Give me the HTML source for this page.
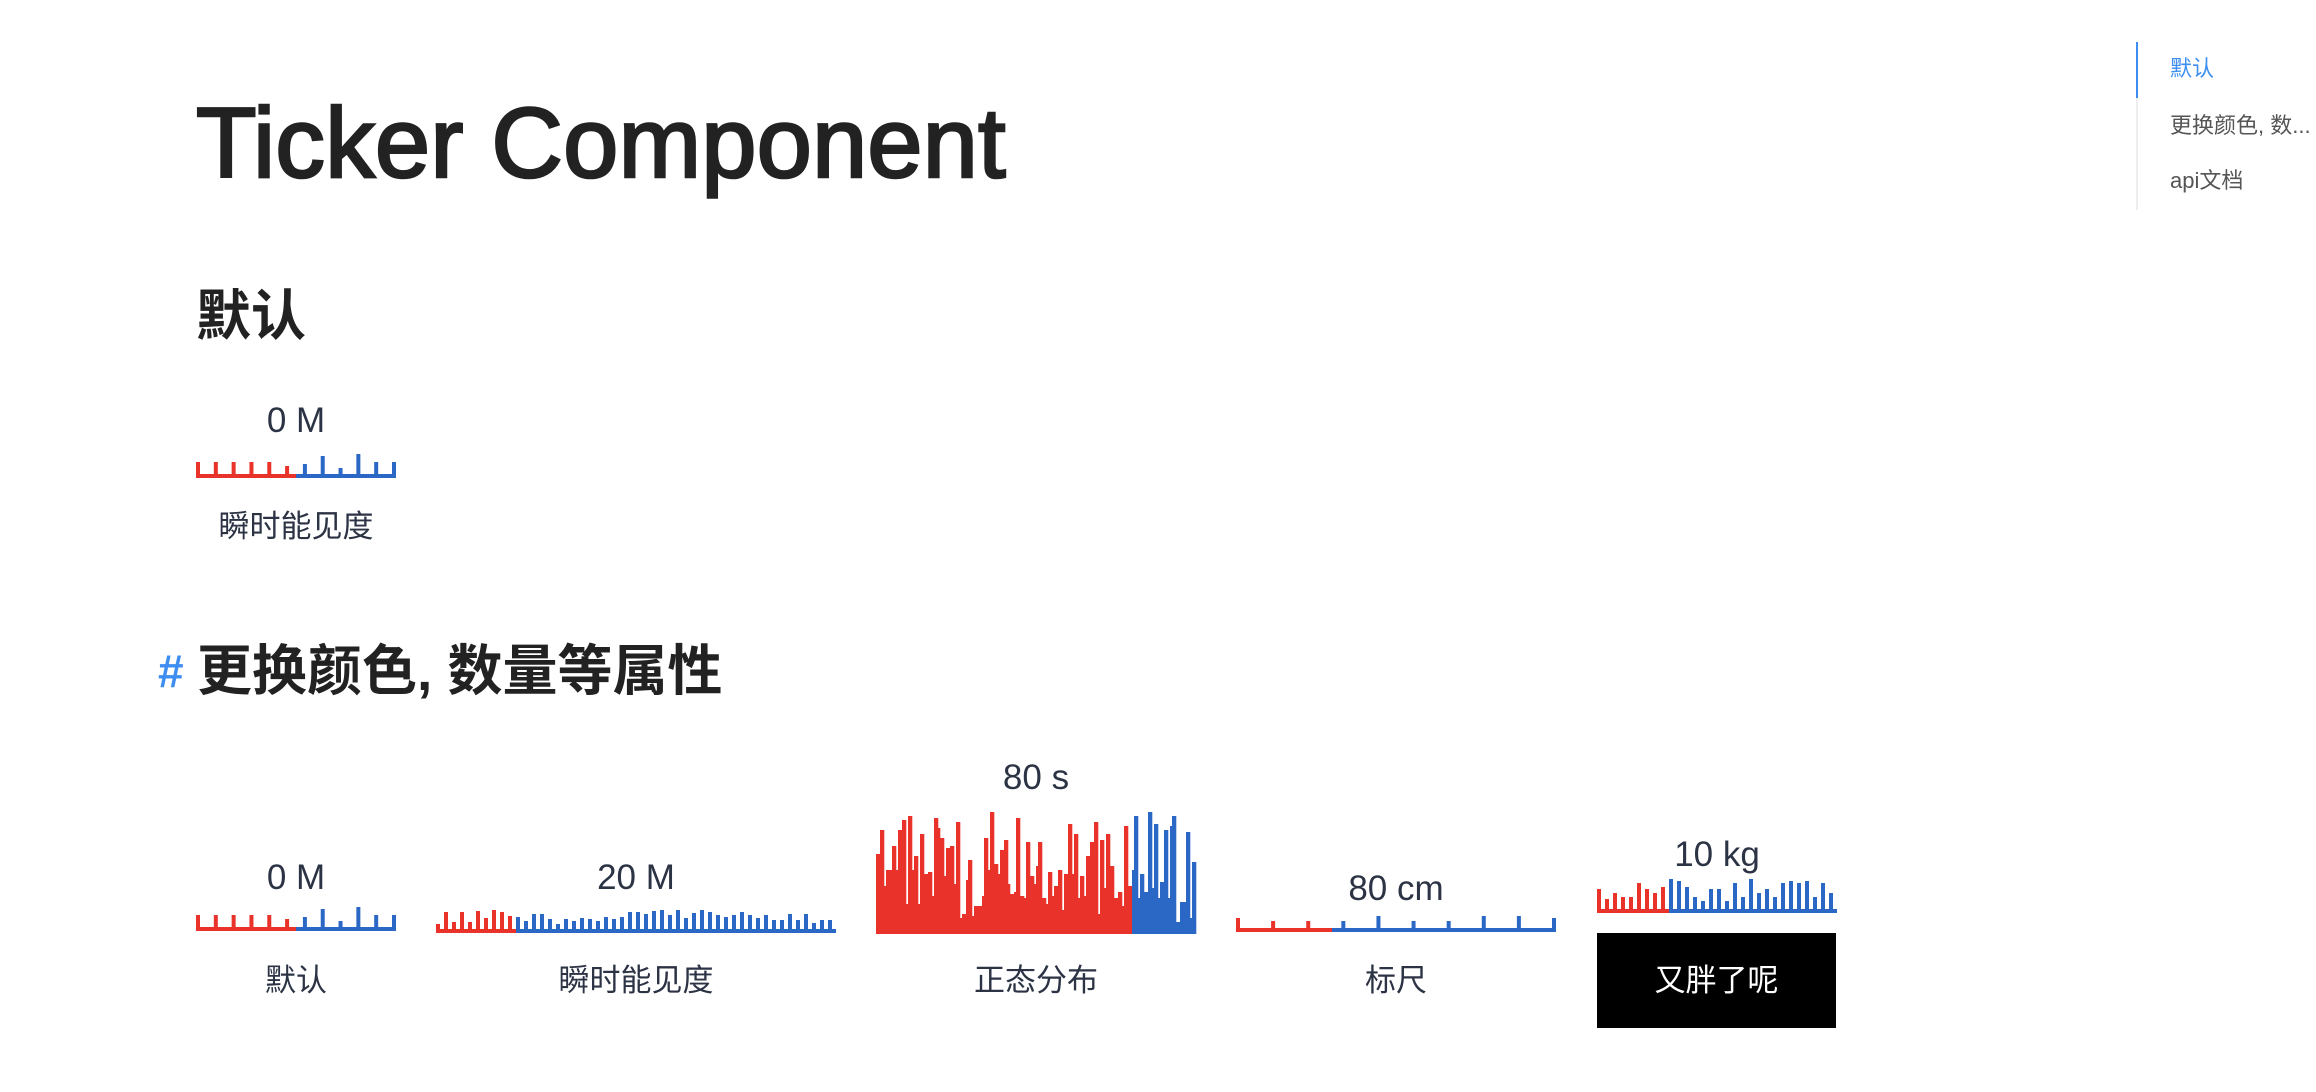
<!DOCTYPE html>
<html><head><meta charset="utf-8">
<style>
html,body{margin:0;padding:0;background:#fff;width:2316px;height:1092px;overflow:hidden;position:relative;font-family:"Liberation Sans","Noto Sans CJK SC",sans-serif;}
.abs{position:absolute;line-height:1;white-space:nowrap;}
.num{color:#2c3345;font-size:35px;text-align:center;}
.lbl{color:#2c3345;font-size:31px;text-align:center;}
svg{position:absolute;overflow:visible;}
</style></head><body>
<div class="abs" style="left:196px;top:93px;font-size:99px;color:#222;-webkit-text-stroke:2.6px #222;letter-spacing:0.3px;">Ticker Component</div>
<div class="abs" style="left:196px;top:289px;font-size:55px;font-weight:bold;color:#222;">默认</div>

<div class="abs num" style="left:196px;width:200px;top:403px;">0 M</div>
<svg id="t0" style="left:196px;top:440px" width="200" height="38"></svg>
<div class="abs lbl" style="left:196px;width:200px;top:511px;">瞬时能见度</div>

<div class="abs" style="left:158px;top:648px;font-size:46px;font-weight:bold;color:#3d8ef0;">#</div>
<div class="abs" style="left:197px;top:644px;font-size:55px;font-weight:bold;color:#222;">更换颜色, 数量等属性</div>

<div class="abs num" style="left:196px;width:200px;top:860px;">0 M</div>
<svg id="t1" style="left:196px;top:893px" width="200" height="38"></svg>
<div class="abs lbl" style="left:196px;width:200px;top:965px;">默认</div>

<div class="abs num" style="left:436px;width:400px;top:860px;">20 M</div>
<svg id="t2" style="left:436px;top:893px" width="400" height="40"></svg>
<div class="abs lbl" style="left:436px;width:400px;top:965px;">瞬时能见度</div>

<div class="abs num" style="left:876px;width:320px;top:760px;">80 s</div>
<svg id="t3" style="left:876px;top:804px" width="320" height="130"></svg>
<div class="abs lbl" style="left:876px;width:320px;top:965px;">正态分布</div>

<div class="abs num" style="left:1236px;width:320px;top:871px;">80 cm</div>
<svg id="t4" style="left:1236px;top:900px" width="320" height="32"></svg>
<div class="abs lbl" style="left:1236px;width:320px;top:965px;">标尺</div>

<div class="abs num" style="left:1597px;width:240px;top:837px;">10 kg</div>
<svg id="t5" style="left:1597px;top:873px" width="240" height="40"></svg>
<div class="abs" style="left:1597px;top:933px;width:239px;height:95px;background:#000;color:#fff;font-size:31px;display:flex;align-items:center;justify-content:center;">又胖了呢</div>

<div class="abs" style="left:2136px;top:42px;width:2px;height:168px;background:#eeeeee;"></div>
<div class="abs" style="left:2136px;top:42px;width:2px;height:56px;background:#3d8ef0;"></div>
<div class="abs" style="left:2170px;top:58px;font-size:22px;color:#3d8ef0;">默认</div>
<div class="abs" style="left:2170px;top:115px;font-size:22px;color:#555;">更换颜色, 数...</div>
<div class="abs" style="left:2170px;top:170px;font-size:22px;color:#555;">api文档</div>

<script>
const RED = '#e8322a', BLUE = '#2b68c6';
const ticks0 = [12,12,12,12,12,8,10,18,6,20,12,12];
const split0 = 0.5;
const ticks2 = [5,17,7,17,7,18,11,19,17,13,12,8,15,15,10,5,10,8,11,10,8,12,10,12,17,17,15,18,19,14,19,11,16,19,17,14,12,14,17,14,11,14,9,9,15,9,15,6,9,9];
const split2 = 0.2;
const dist3 = [80,80,104,104,48,64,64,64,88,88,64,104,104,114,114,30,118,118,64,78,78,30,100,100,60,60,62,62,38,116,116,106,96,96,58,86,86,88,88,50,112,112,16,20,20,54,74,74,18,28,28,28,28,38,96,96,64,122,122,70,70,60,84,84,94,94,50,40,40,42,116,116,38,38,36,92,92,58,58,50,68,92,92,36,36,30,62,62,38,48,48,64,64,24,60,60,110,110,60,100,100,36,58,58,38,78,78,92,92,112,112,20,94,94,46,100,100,68,68,36,36,42,42,28,108,108,48,48,
64,118,118,36,60,60,42,42,122,122,46,110,110,36,52,52,104,104,36,108,118,118,12,12,32,32,32,102,102,16,72,72];
const split3 = 0.8;
const ruler4 = [10,7,7,7,12,7,7,12,12,10];
const split4 = 0.3;
const ticks5 = [20,10,16,12,12,26,20,16,22,30,28,22,12,8,20,20,8,26,12,30,16,20,12,26,28,26,28,12,26,16];
const split5 = 0.3;

const NS='http://www.w3.org/2000/svg';
function rect(svg,x,y,w,h,c,name){
  const r=document.createElementNS(NS,'rect');
  r.setAttribute('x',x);r.setAttribute('y',y);r.setAttribute('width',w);r.setAttribute('height',h);r.setAttribute('fill',c);
  
  
  svg.appendChild(r);
}
function tickChart(id,vals,split,bw,base,edge){
  const svg=document.getElementById(id);
  const W=+svg.getAttribute('width'),H=+svg.getAttribute('height');
  const n=vals.length;
  const xs=i=> edge ? i*(W-bw)/(n-1) : i*W/n;
  vals.forEach((v,i)=>{
    const x=xs(i);
    const c=(x+bw/2)/W<split?RED:BLUE;
    rect(svg,x,H-base-v,bw,v,c,'tick');
  });
  rect(svg,0,H-base,W*split,base,RED,'baseline-left');
  rect(svg,W*split,H-base,W-W*split,base,BLUE,'baseline-right');
}
function distChart(id,vals,split){
  const svg=document.getElementById(id);
  const W=+svg.getAttribute('width'),H=+svg.getAttribute('height');
  const bw=W/vals.length;
  vals.forEach((v,i)=>{
    const c=i/vals.length<split?RED:BLUE;
    rect(svg,i*bw,H-v,bw+0.3,v,c,'distribution-bar');
  });
}
tickChart('t0',ticks0,split0,4,4,true);
tickChart('t1',ticks0,split0,4,4,true);
tickChart('t2',ticks2,split2,4,4,false);
distChart('t3',dist3,split3);
tickChart('t4',ruler4,split4,4,4,true);
tickChart('t5',ticks5,split5,4,4,false);
</script>
</body></html>
